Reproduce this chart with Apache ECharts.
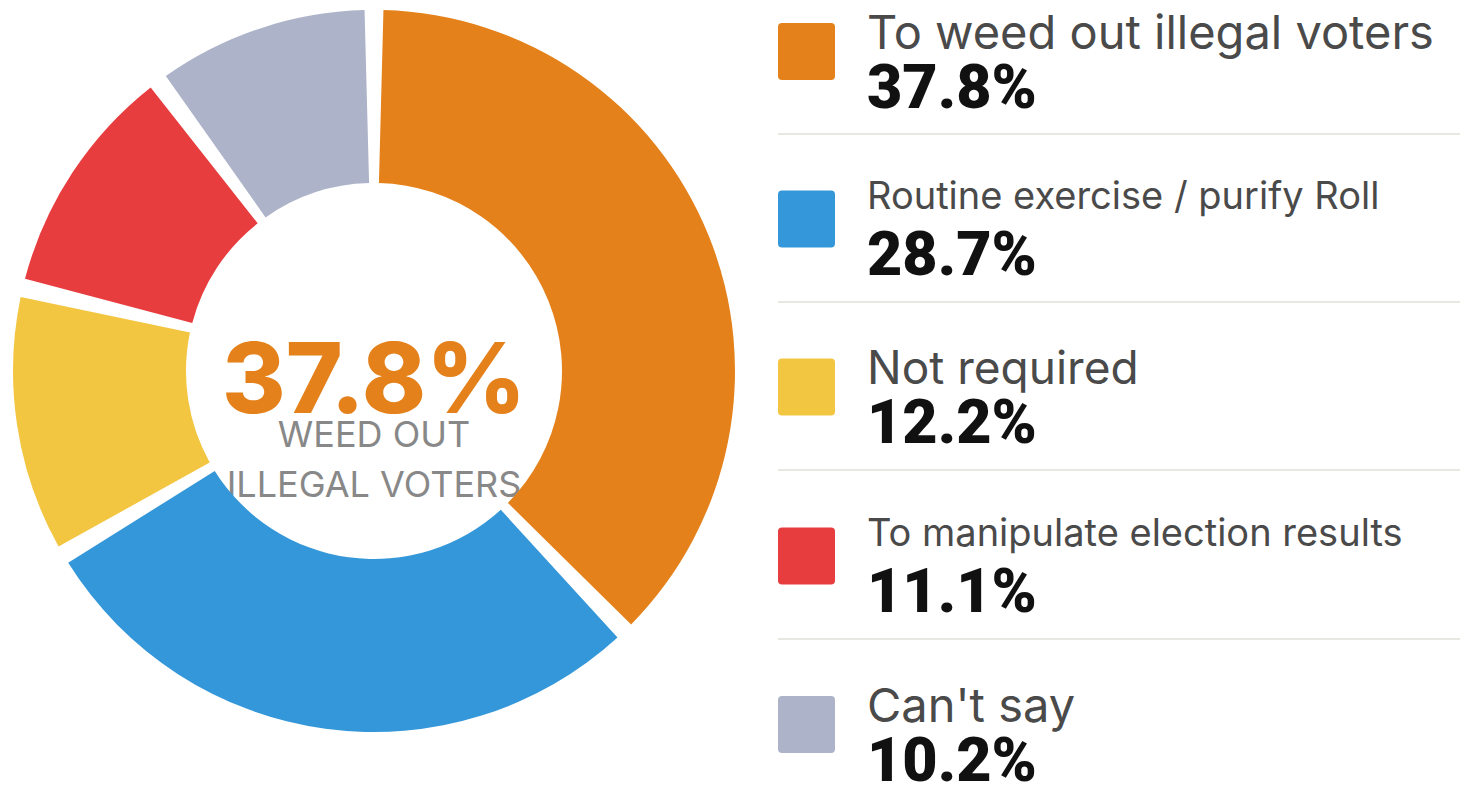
<!DOCTYPE html>
<html>
<head>
<meta charset="utf-8">
<title>Why revise the electoral roll</title>
<script src="https://cdn.jsdelivr.net/npm/echarts@6/dist/echarts.min.js"></script>
<style>
  html, body { margin: 0; padding: 0; background: #fff; }
  #chart { width: 1460px; height: 785px; }
</style>
</head>
<body>
<div id="chart"></div>
<script>
// data
const categories = [
  'To weed out illegal voters',
  'Routine exercise / purify Roll',
  'Not required',
  'To manipulate election results',
  "Can't say",
]
const shares = [37.8, 28.7, 12.2, 11.1, 10.2]
const centerCaption = ['WEED OUT', 'ILLEGAL VOTERS']

// styling
const COLORS = ['#E5811B', '#3497D9', '#F3C642', '#E83D3F', '#ADB3C8']
const LABEL_SIZES = [47, 38, 46, 38, 47] // long labels are set smaller in the original
const CENTER = [374, 371]
const RADIUS = [188, 361]

const LEGEND_LEFT = 778
const SWATCH = 57
const FIRST_SWATCH_TOP = 22
const ROW_STEP = 168.2

const swatchTop = (i) => Math.round(FIRST_SWATCH_TOP + ROW_STEP * i)
const isSmall = (i) => LABEL_SIZES[i] < 42

// one legend per row so the rows keep the reference spacing
const legends = categories.map((name, i) => {
  const rich = {
    l: { fontFamily: 'Inter', fontWeight: 400, fontSize: LABEL_SIZES[i], color: '#4a4a4a', lineHeight: 70, padding: [0, 0, 0, 27] },
    // smaller labels sit a little higher over the value in the original
    v: { fontFamily: 'Roboto', fontWeight: 900, fontSize: 61, color: '#111', lineHeight: isSmall(i) ? 48 : 40, padding: [0, 0, 0, 27] },
  }
  return {
    orient: 'vertical',
    left: LEGEND_LEFT,
    top: swatchTop(i) - (isSmall(i) ? 14 : 14),
    padding: 0,
    itemWidth: SWATCH,
    itemHeight: SWATCH,
    selectedMode: false,
    icon: 'path://M4 0h49a4 4 0 0 1 4 4v49a4 4 0 0 1-4 4H4a4 4 0 0 1-4-4V4a4 4 0 0 1 4-4z',
    data: [name],
    formatter: () => `{l|${name}}\n{v|${shares[i]}%}`,
    textStyle: { rich },
  }
})

// thin rules between the legend rows
const rules = categories.slice(1).map((_, i) => ({
  type: 'line',
  silent: true,
  shape: { x1: LEGEND_LEFT, y1: 0, x2: 1460, y2: 0 },
  y: swatchTop(i) + SWATCH + 55,
  style: { stroke: '#E9E7E2', lineWidth: 2 },
}))

const chart = echarts.init(document.getElementById('chart'), null, { renderer: 'svg' })

chart.setOption({
  animation: false,
  backgroundColor: '#fff',
  color: COLORS,
  legend: legends,
  graphic: [
    ...rules,
    {
      type: 'text',
      silent: true,
      x: CENTER[0],
      y: 377,
      style: {
        text: `${shares[0]}%`,
        fill: COLORS[0],
        fontFamily: 'Inter',
        fontWeight: 800,
        fontSize: 97,
        align: 'center',
        verticalAlign: 'middle',
      },
    },
    ...centerCaption.map((line, i) => ({
      type: 'text',
      silent: true,
      x: CENTER[0],
      y: 434 + i * 50,
      style: {
        text: line,
        fill: '#888',
        fontFamily: 'Inter',
        fontWeight: 400,
        fontSize: 36,
        align: 'center',
        verticalAlign: 'middle',
      },
    })),
  ],
  series: [
    {
      type: 'pie',
      center: CENTER,
      radius: RADIUS,
      startAngle: 90,
      clockwise: true,
      padAngle: 3,
      silent: true,
      label: { show: false },
      labelLine: { show: false },
      data: categories.map((name, i) => ({ name, value: shares[i] })),
    },
  ],
})

window.addEventListener('resize', () => chart.resize())
</script>
</body>
</html>
